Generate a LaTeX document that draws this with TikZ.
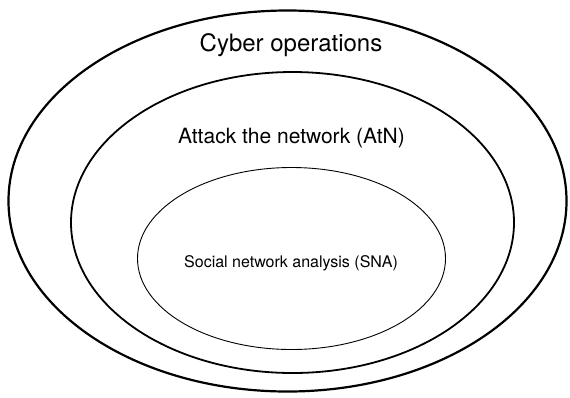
\documentclass[tikz,border=0pt]{standalone}
\usepackage{fontspec}
\setmainfont{TeX Gyre Heros}
\usetikzlibrary{shapes.geometric, positioning}

\begin{document}
\begin{tikzpicture}[
  x=1bp, y=-1bp,
  ring/.style={draw, ellipse, inner sep=0pt, outer sep=0pt},
  lbl/.style={anchor=base, inner sep=0pt}
]
  \useasboundingbox (0,0) rectangle (570,397);

  % Nested scopes, outermost first
  \node[ring, line width=2.2bp, minimum width=558bp, minimum height=381bp] (cyber) at (287.5, 201) {};
  \node[ring, line width=1.8bp, minimum width=443bp, minimum height=301bp] (atn) at (292.5, 222.5) {};
  \node[ring, line width=0.9bp, minimum width=308bp, minimum height=182bp] (sna) at (291.5, 258.5) {};

  % Labels
  \node[lbl, font=\fontsize{24bp}{28bp}\selectfont] (cyberlbl) at (291, 51) {Cyber operations};
  \node[lbl, font=\fontsize{21bp}{25bp}\selectfont] (atnlbl) at (291.5, 143) {Attack the network (AtN)};
  \node[lbl, font=\fontsize{16bp}{19bp}\selectfont] (snalbl) at (291, 267) {Social network analysis (SNA)};
\end{tikzpicture}
\end{document}
